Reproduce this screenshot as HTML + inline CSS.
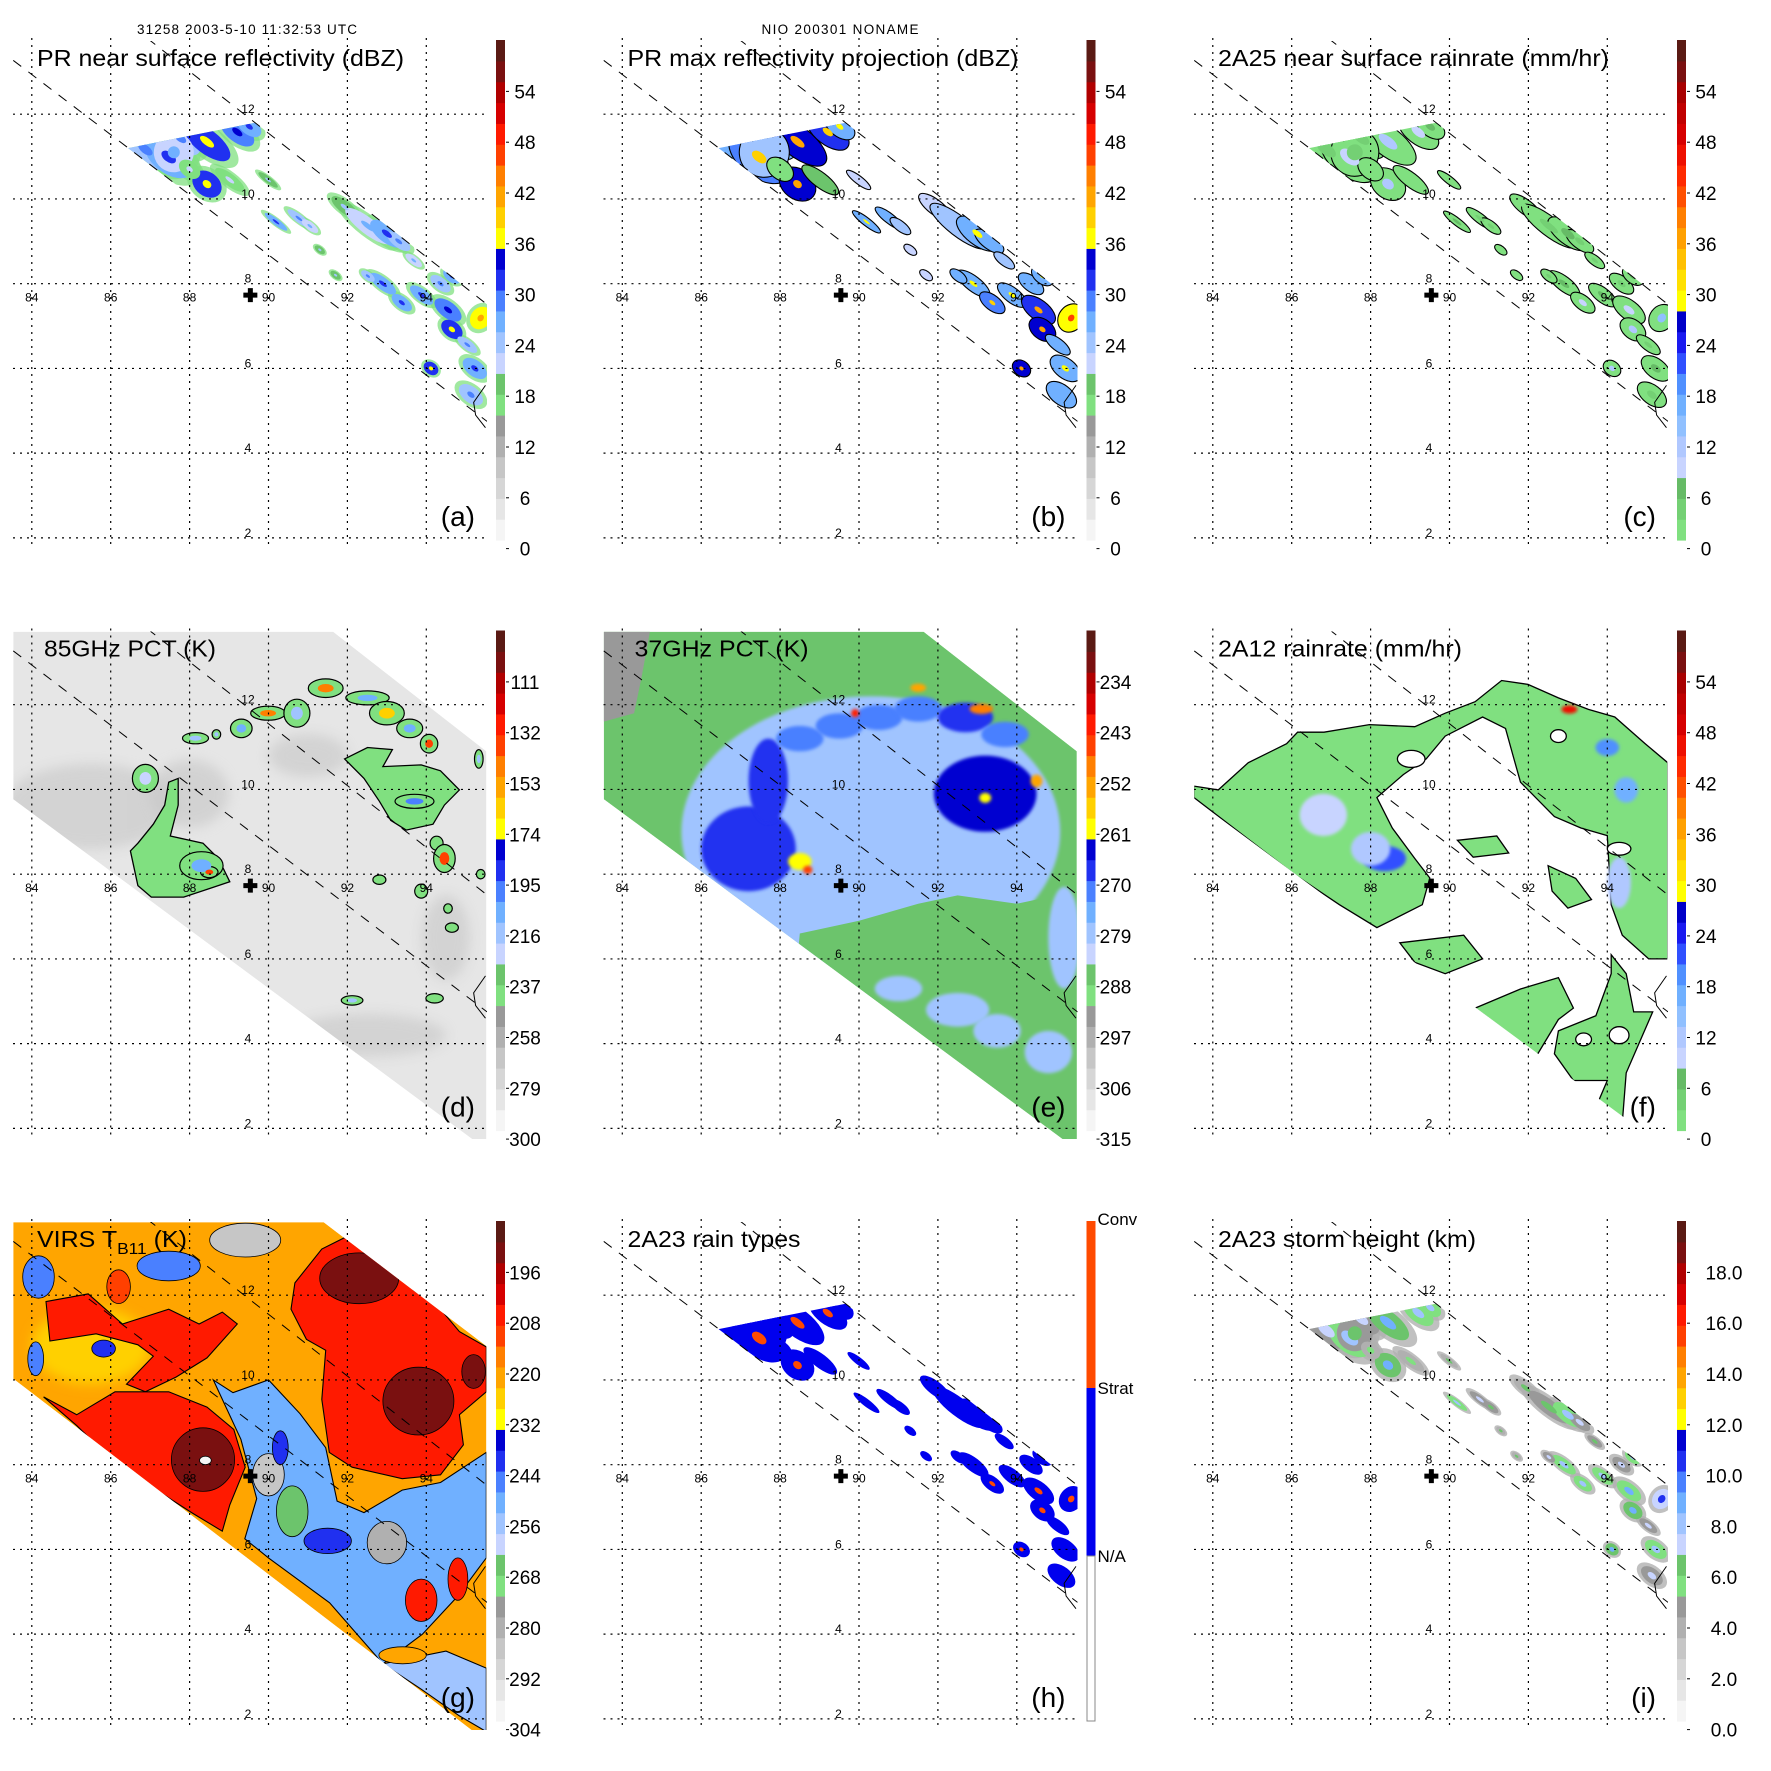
<!DOCTYPE html>
<html><head><meta charset="utf-8"><title>TRMM overpass panels</title>
<style>
html,body{margin:0;padding:0;background:#fff;}
svg{display:block;font-family:"Liberation Sans",Arial,sans-serif;}
</style></head>
<body>
<svg id="fig" xmlns="http://www.w3.org/2000/svg" width="1771" height="1771" viewBox="0 0 1771 1771">
<defs>
<filter id="blur6" x="-50%" y="-50%" width="200%" height="200%"><feGaussianBlur stdDeviation="6"/></filter>
<filter id="blur2" x="-50%" y="-50%" width="200%" height="200%"><feGaussianBlur stdDeviation="1.5"/></filter>
</defs>
<text x="247" y="34" font-size="13.5" text-anchor="middle" textLength="220">31258 2003-5-10 11:32:53 UTC</text>
<text x="840" y="34" font-size="13.5" text-anchor="middle" textLength="157">NIO 200301 NONAME</text>
</svg>
<script>
// ---------- data ----------
const lonTicks=[84,86,88,90,92,94];
const latTicks=[12,10,8,6,4,2];
const stdPalette=['#f5f5f5','#e6e6e6','#d6d6d6','#c6c6c6','#b0b0b0','#999999','#80e080','#6cc46c','#c8d4ff','#a0c4ff','#70b0ff','#4a80ff','#2030f0','#0000d0','#ffff00','#ffd000','#ffa500','#ff7f00','#ff4000','#ff1a00','#d60000','#b00000','#7a1010','#5a1a14'];
const rainPalette=['#80e080','#74d074','#66bb66','#c8d4ff','#b0c8ff','#90c0ff','#70b0ff','#5090ff','#3050ff','#1a1af0','#0000c8','#ffff00','#ffe000','#ffc000','#ffa000','#ff7f00','#ff5000','#ff2a00','#ee1000','#d60000','#c00000','#a80000','#7a1010','#5a1a14'];
const labelsDbz=['0','6','12','18','24','30','36','42','48','54'];
const labels85=['300','279','258','237','216','195','174','153','132','111'];
const labels37=['315','306','297','288','279','270','261','252','243','234'];
const labelsIR=['304','292','280','268','256','244','232','220','208','196'];
const labelsHt=['0.0','2.0','4.0','6.0','8.0','10.0','12.0','14.0','16.0','18.0'];
const swathU=[[86.93,13.79],[95.54,7.51]];
const swathL=[[83.53,13.27],[95.54,4.75]];
const prSwath=[[86.44,11.2],[89.66,11.8],[95.54,7.51],[95.54,4.75]];
const tmiSwath=[[83.53,13.72],[91.64,13.72],[95.52,10.9],[95.52,1.75],[95.16,1.75],[83.53,9.77]];
const virsSwath=[[83.53,13.72],[91.4,13.72],[95.52,10.8],[95.52,1.7],[95.2,1.7],[83.53,10.03]];
const centerLonLat=[89.54,7.73];
// PR cells: lon, lat, length(deg), width(deg), reflectivity dBZ
const prCells=[
[86.88,11.17,0.7,0.35,28],[87.47,10.99,0.7,0.4,32],[87.76,11.44,0.6,0.3,28],[88.44,11.35,0.7,0.3,36],
[89.21,11.58,0.5,0.25,33],[89.51,11.71,0.35,0.2,30],[88.44,10.35,0.4,0.3,36],[89.02,10.45,0.45,0.15,22],
[88.14,11.85,0.3,0.2,24],[87.6,11.1,0.5,0.5,26],[88.0,10.7,0.3,0.2,20],[91.93,9.81,0.4,0.15,24],
[92.52,9.36,0.7,0.2,26],[93.0,9.18,0.5,0.22,30],[93.3,9.0,0.35,0.15,28],[90.19,9.46,0.35,0.08,30],
[90.77,9.54,0.35,0.1,28],[91.05,9.36,0.25,0.1,26],[89.99,10.45,0.3,0.08,24],[92.9,8.0,0.4,0.15,30],
[93.38,7.55,0.3,0.15,32],[93.88,7.73,0.35,0.15,30],[94.36,8.0,0.3,0.15,28],[94.55,7.38,0.4,0.2,34],
[94.65,6.92,0.3,0.2,36],[95.04,6.56,0.3,0.12,28],[95.38,7.19,0.25,0.3,40],[95.23,6.0,0.35,0.2,30],
[95.13,5.38,0.35,0.2,28],[94.12,6.0,0.2,0.15,36],[94.65,8.18,0.25,0.15,30],[92.52,8.18,0.2,0.1,28],
[93.68,8.55,0.25,0.1,26],[91.3,8.8,0.15,0.08,24],[91.7,8.2,0.15,0.08,24]];
// 85 GHz: background blobs (lon,lat,rlon,rlat,K) and convective patches
const d85Back=[[85.5,9.6,2.2,1.0,268],[88,9.9,1.0,0.8,272],[92.5,4.2,2.0,0.5,270],[94.5,6.5,0.6,1.0,268],[91,10.8,1.0,0.5,272]];
const d85Polys=[
{v:245,pts:[[86.69,8.73],[87.08,9.18],[87.37,9.63],[87.47,10.17],[87.71,10.26],[87.71,9.63],[87.51,8.9],[88.34,8.73],[88.73,8.37],[89.02,7.82],[88.44,7.64],[87.85,7.46],[87.03,7.46],[86.69,7.73],[86.5,8.55]]},
{v:245,pts:[[91.93,10.72],[92.51,10.99],[93.14,10.94],[92.9,10.54],[93.87,10.58],[94.36,10.44],[94.84,9.99],[94.46,9.63],[94.17,9.18],[93.49,9.04],[93.1,9.27],[92.81,9.72],[92.42,10.26]]}];
const d85Cells=[[88.3,8.2,0.5,0.3,205],[88.5,8.05,0.2,0.12,140],[93.7,9.72,0.45,0.15,200],[86.88,10.26,0.3,0.3,225],
[88.15,11.21,0.3,0.12,215],[88.68,11.3,0.1,0.1,215],[89.31,11.44,0.25,0.2,210],[89.99,11.8,0.4,0.15,150],
[90.72,11.8,0.3,0.3,215],[91.45,12.39,0.4,0.2,150],[92.51,12.16,0.5,0.15,205],[93.0,11.8,0.4,0.25,165],
[93.58,11.44,0.3,0.2,205],[94.07,11.08,0.2,0.2,135],[94.26,8.73,0.15,0.15,240],[94.46,8.37,0.25,0.3,140],
[93.87,7.6,0.15,0.15,240],[94.55,7.19,0.1,0.1,240],[94.65,6.74,0.15,0.1,240],[95.38,8.0,0.1,0.1,240],
[92.12,5.02,0.25,0.1,220],[94.21,5.07,0.2,0.1,240],[92.81,7.87,0.15,0.1,240],[95.33,10.72,0.1,0.2,220]];
// 37 GHz field
const e37Cells=[[90.3,9.0,4.8,3.2,281],[87.2,8.6,1.2,1.0,267],[87.7,10.2,0.5,1.0,267],[93.2,9.9,1.3,0.9,266],
[88.5,11.2,0.6,0.3,272],[89.5,11.5,0.6,0.3,272],[90.5,11.7,0.6,0.3,272],[91.5,11.9,0.6,0.3,272],[92.7,11.7,0.7,0.35,270],[93.7,11.3,0.6,0.3,272],
[92.5,4.8,0.8,0.4,280],[93.5,4.3,0.6,0.4,279],[94.8,3.8,0.6,0.5,280],[91,5.3,0.6,0.3,281],[95.2,6.5,0.4,1.2,278],
[88.5,8.3,0.3,0.2,259],[88.7,8.1,0.12,0.1,245],[91.5,12.4,0.2,0.1,252],[93.1,11.9,0.3,0.12,250],[93.2,9.8,0.15,0.12,259],[94.5,10.2,0.15,0.15,255],[89.9,11.8,0.1,0.1,243]];
const e37Polys=[{v:296,pts:[[83.53,13.72],[84.7,13.72],[84.5,12.7],[84.3,11.8],[83.53,11.6]]},
{v:288,pts:[[88.5,6.6],[90,6.9],[91.5,7.3],[92.5,7.5],[94,7.3],[95.52,7.6],[95.52,1.7],[88,1.7]]}];
// 2A12 rain rate polygons (mm/hr)
const f12Polys=[
{v:2,pts:[[83.52,10.08],[84.14,9.99],[84.9,10.63],[85.87,11.08],[86.15,11.35],[86.82,11.35],[87.4,11.44],[87.97,11.53],[89.12,11.48],[89.89,11.8],[90.65,12.07],[91.32,12.57],[91.99,12.48],[92.76,12.16],[93.52,11.89],[94.19,11.71],[94.96,11.08],[95.53,10.63],[95.53,6.0],[95.05,6.0],[94.38,6.56],[94.1,7.28],[94.0,8.91],[93.33,9.09],[92.66,9.36],[91.8,10.17],[91.61,10.8],[91.42,11.44],[90.84,11.71],[89.89,11.26],[89.41,10.72],[88.83,10.35],[88.16,9.81],[88.55,9.09],[89.12,8.37],[89.5,7.91],[89.31,7.28],[88.55,6.92],[88.16,6.74],[87.21,7.28],[86.06,8.0],[83.52,9.81]]},
{v:2,pts:[[90.65,4.84],[91.8,5.29],[92.76,5.56],[93.14,4.84],[92.76,4.57],[92.18,3.67],[91.42,4.3]]},
{v:2,pts:[[92.76,4.3],[93.71,4.66],[94.1,5.65],[94.1,6.1],[94.48,5.65],[94.67,4.75],[95.15,4.75],[94.48,3.31],[94.38,2.14],[93.71,2.5],[94.0,3.13],[93.14,3.13],[92.66,3.76]]},
{v:2,pts:[[88.74,6.38],[90.36,6.56],[90.84,6.0],[89.89,5.65],[89.12,5.92]]},
{v:2,pts:[[90.2,8.8],[91.2,8.9],[91.5,8.5],[90.6,8.4]]},
{v:2,pts:[[92.5,8.2],[93.2,7.9],[93.6,7.4],[93,7.2],[92.6,7.6]]}];
const f12Cells=[[88.35,8.37,0.55,0.3,20],[88.0,8.6,0.5,0.4,12],[94.0,10.99,0.3,0.2,18],[94.48,9.99,0.3,0.3,16],[93.04,11.89,0.2,0.1,46],[94.3,7.8,0.3,0.6,12],[86.8,9.4,0.6,0.5,9]];
const f12Holes=[[89.03,10.72,0.35,0.2],[92.76,11.26,0.2,0.15],[94.3,8.6,0.3,0.15],[93.4,4.1,0.2,0.15],[94.3,4.2,0.25,0.2]];
// VIRS IR (K)
const gIRPolys=[
{v:205,pts:[[90.67,12.29],[91.35,13.09],[91.93,13.36],[92.9,13.09],[93.68,12.12],[94.36,11.67],[94.84,11.14],[95.52,10.78],[95.52,9.72],[94.84,9.18],[94.94,8.47],[94.36,7.76],[93.39,7.67],[92.12,7.94],[91.54,8.29],[91.35,9.54],[91.45,10.7],[90.96,10.96],[90.57,11.67]]},
{v:208,pts:[[84.36,11.85],[85.43,12.03],[86.3,11.32],[87.47,11.67],[88.24,11.32],[88.83,11.6],[89.21,11.32],[88.44,10.52],[87.66,10.07],[86.88,9.72],[86.4,9.9],[87.08,10.56],[86.69,10.83],[85.63,11.09],[84.46,10.92]]},
{v:206,pts:[[85.14,9.18],[86.11,9.72],[87.47,9.72],[88.44,9.36],[89.12,8.83],[89.41,7.94],[89.02,7.05],[88.83,6.43],[88.05,6.87],[86.11,8.03],[85.14,8.92],[84.3,9.6]]},
{v:254,pts:[[88.6,10.0],[89.1,9.7],[90,10.0],[90.8,9.2],[91.45,8.4],[91.74,7.14],[92.42,6.87],[93.39,7.4],[94.36,7.58],[95.52,8.29],[95.52,5.8],[94.8,4.9],[93.9,4.0],[92.9,3.3],[91.55,4.74],[90,5.8],[89.4,6.25],[89.7,7.2],[89.3,8.6]]},
{v:258,pts:[[92.9,3.3],[93.87,2.7],[94.84,2.07],[95.52,1.7],[95.52,3.2],[94.5,3.6]]}];
const gIRCells=[[92.3,12.4,1.0,0.6,192],[93.8,9.5,0.9,0.8,193],[95.2,10.2,0.3,0.4,193],[88.34,8.12,0.8,0.75,192],[88.4,8.1,0.15,0.1,300],
[90,7.76,0.4,0.5,285],[93,6.16,0.5,0.5,284],[90.6,6.9,0.4,0.6,268],[89.41,13.3,0.9,0.4,286],[87.47,12.69,0.8,0.35,246],
[84.17,12.43,0.4,0.5,246],[85.82,10.74,0.3,0.2,244],[84.1,10.5,0.2,0.4,246],[93.87,4.8,0.4,0.5,206],[94.8,5.3,0.25,0.5,206],
[91.5,6.2,0.6,0.3,243],[93.4,3.5,0.6,0.2,224],[86.2,12.2,0.3,0.4,214],[90.3,8.4,0.2,0.4,244]];

// ---------- geometry ----------
const PO=[0,590.5,1181];
function X(lon){return 31.8+(lon-84)*39.45;}
function Y(lat){return 114.2+(12-lat)*42.37;}
function P(pts){return pts.map(p=>X(p[0]).toFixed(1)+','+Y(p[1]).toFixed(1)).join(' ');}
const NS='http://www.w3.org/2000/svg';
const svg=document.getElementById('fig');
function mk(tag,attrs,parent){const e=document.createElementNS(NS,tag);for(const k in attrs)e.setAttribute(k,attrs[k]);(parent||svg).appendChild(e);return e;}
function pick(pal,f){const i=Math.max(0,Math.min(pal.length-1,Math.floor(f*pal.length)));return pal[i];}
const ANG=37.6;

function ellipseDeg(g,c,fill,scale,extra){
  const e=mk('ellipse',Object.assign({cx:X(c[0]).toFixed(1),cy:Y(c[1]).toFixed(1),rx:(c[2]*39.45*scale).toFixed(1),ry:(c[3]*42.37*scale).toFixed(1),fill:fill},extra||{}),g);
  return e;
}
function cellSwath(g,c,fill,scale,extra){
  const cx=X(c[0]),cy=Y(c[1]);
  const e=mk('ellipse',Object.assign({cx:cx.toFixed(1),cy:cy.toFixed(1),rx:(c[2]*40*scale).toFixed(1),ry:(c[3]*40*scale).toFixed(1),fill:fill,transform:'rotate('+ANG+' '+cx.toFixed(1)+' '+cy.toFixed(1)+')'},extra||{}),g);
  return e;
}

function panel(i,cfg){
  const ox=PO[i%3],oy=PO[Math.floor(i/3)];
  const g=mk('g',{transform:'translate('+ox+','+oy+')'});
  
  
  const cid='clip'+i;
  const cp=mk('clipPath',{id:cid},g);
  mk('polygon',{points:P(cfg.clip)},cp);
  const rc='rect'+i;
  const cp2=mk('clipPath',{id:rc},g);
  mk('rect',{x:13,y:41,width:474,height:508},cp2);
  const outer=mk('g',{'clip-path':'url(#'+rc+')'},g);
  const field=mk('g',{'clip-path':'url(#'+cid+')'},outer);
  
  
  cfg.draw(field);
  [swathU,swathL].forEach((s,k)=>{
    const ln=mk('line',{x1:X(s[0][0]),y1:Y(s[0][1]),x2:X(s[1][0]),y2:Y(s[1][1]),stroke:'#000','stroke-width':1,'stroke-dasharray':'10,9'},outer);
    
    
  });
  const coast=mk('path',{d:'M'+X(95.5)+','+Y(5.6)+' L'+X(95.2)+','+Y(5.2)+' L'+X(95.25)+','+Y(4.9)+' L'+X(95.5)+','+Y(4.6),fill:'none',stroke:'#000','stroke-width':1},outer);
  
  
  lonTicks.forEach(lon=>{
    const l=mk('line',{x1:X(lon),y1:38,x2:X(lon),y2:549,stroke:'#000','stroke-width':1.2,'stroke-dasharray':'2,5'},g);
    
    
    const t=mk('text',{x:X(lon),y:Y(8)+18,'font-size':12,'text-anchor':'middle'},g);
    t.textContent=lon;
    
    
  });
  latTicks.forEach(lat=>{
    const l=mk('line',{x1:13,y1:Y(lat),x2:487,y2:Y(lat),stroke:'#000','stroke-width':1.2,'stroke-dasharray':'2,5'},g);
    
    
    const t=mk('text',{x:X(89.48),y:Y(lat)-1,'font-size':12,'text-anchor':'middle'},g);
    t.textContent=lat;
    
    
  });
  const cx=X(centerLonLat[0]),cy=Y(centerLonLat[1]);
  const cr=mk('path',{d:'M'+(cx-7)+','+(cy-2.5)+'h14v5h-14z M'+(cx-2.5)+','+(cy-7)+'h5v14h-5z',fill:'#000'},g);
  
  
  const tt=mk('text',{x:cfg.tx||37,y:66,'font-size':23,textLength:cfg.tw,lengthAdjust:'spacingAndGlyphs'},g);
  
  
  if(cfg.titleSub){
    tt.appendChild(document.createTextNode('VIRS T'));
    const s=mk('tspan',{'font-size':16,dy:7},tt);s.textContent='B11';
    const s2=mk('tspan',{dy:-7},tt);s2.textContent=' (K)';
  } else tt.textContent=cfg.title;
  const pl=mk('text',{x:475,y:526,'font-size':28,'text-anchor':'end'},g);
  pl.textContent='('+cfg.letter+')';
  
  
  const cb=mk('g',{},g);
  
  
  if(cfg.rainTypes){
    mk('rect',{x:496,y:40,width:9,height:167,fill:'#ff4a00'},cb);
    mk('rect',{x:496,y:207,width:9,height:168,fill:'#0000ee'},cb);
    mk('rect',{x:496.5,y:375,width:8,height:165,fill:'#fff',stroke:'#888','stroke-width':1},cb);
    [['Conv',44],['Strat',213],['N/A',381]].forEach(a=>{
      const t=mk('text',{x:507,y:a[1],'font-size':17},cb);t.textContent=a[0];
      
      
    });
  } else {
    const pal=cfg.barPal, h=500/pal.length;
    pal.forEach((c,k)=>{mk('rect',{x:496,y:(540-(k+1)*h).toFixed(2),width:9,height:(h+0.6).toFixed(2),fill:c},cb);});
    cfg.labels.forEach((lb,k)=>{
      const ty=548.6-50.8*k;
      mk('line',{x1:506,y1:ty,x2:509,y2:ty,stroke:'#000','stroke-width':1},cb);
      const t=mk('text',{x:cfg.lx||525,y:ty+7,'font-size':19,'text-anchor':'middle'},cb);
      t.textContent=lb;
      
      
    });
  }
}

// ---------- panels ----------
const dbz=v=>pick(stdPalette,v/60);
panel(0,{letter:'a',title:'PR near surface reflectivity (dBZ)',tw:367,clip:prSwath,barPal:stdPalette,labels:labelsDbz,draw:g=>{
  prCells.forEach(c=>{cellSwath(g,c,dbz(17),1.35,{opacity:0.75});});
  prCells.forEach(c=>{const e=cellSwath(g,c,dbz(c[4]-5),1.0);});
  prCells.forEach(c=>{cellSwath(g,c,dbz(c[4]),0.3);});
}});
panel(1,{letter:'b',title:'PR max reflectivity projection (dBZ)',tw:391,clip:prSwath,barPal:stdPalette,labels:labelsDbz,draw:g=>{
  prCells.forEach(c=>{const e=cellSwath(g,c,dbz(c[4]-3),1.25,{stroke:'#000','stroke-width':1.1});});
  prCells.forEach(c=>{if(c[4]>=30)cellSwath(g,c,dbz(c[4]+6),0.3);});
}});
panel(2,{letter:'c',title:'2A25 near surface rainrate (mm/hr)',tw:391,clip:prSwath,barPal:rainPalette,labels:labelsDbz,draw:g=>{
  prCells.forEach(c=>{const e=cellSwath(g,c,'#80e080',1.2,{stroke:'#000','stroke-width':1.1});});
  prCells.forEach(c=>{const r=Math.max(0,(c[4]-22)*0.8);cellSwath(g,c,pick(rainPalette,r/60),0.4);});
}});
panel(3,{letter:'d',title:'85GHz PCT (K)',tx:44,tw:172,clip:tmiSwath,barPal:stdPalette,labels:labels85,draw:g=>{
  mk('polygon',{points:P(tmiSwath),fill:'#e6e6e6'},g);
  d85Back.forEach(c=>{ellipseDeg(g,c,pick(stdPalette,(300-c[4])/210),1,{filter:'url(#blur6)',opacity:0.6});});
  d85Polys.forEach(p=>{const e=mk('polygon',{points:P(p.pts),fill:pick(stdPalette,(300-p.v)/210),stroke:'#000','stroke-width':1.3},g);});
  d85Cells.forEach(c=>{const e=ellipseDeg(g,c,pick(stdPalette,(300-245)/210),1.1,{stroke:'#000','stroke-width':1.2});});
  d85Cells.forEach(c=>{if(c[4]<235)ellipseDeg(g,c,pick(stdPalette,(300-c[4])/210),0.5);});
}});
panel(4,{letter:'e',title:'37GHz PCT (K)',tx:44,tw:174,clip:tmiSwath,barPal:stdPalette,labels:labels37,draw:g=>{
  mk('polygon',{points:P(tmiSwath),fill:pick(stdPalette,(315-288)/90)},g);
  e37Cells.slice(0,1).forEach(c=>{ellipseDeg(g,c,pick(stdPalette,(315-c[4])/90),1,{filter:'url(#blur2)'});});
  e37Polys.forEach(p=>{const e=mk('polygon',{points:P(p.pts),fill:pick(stdPalette,(315-p.v)/90)},g);});
  e37Cells.slice(1).forEach(c=>{const e=ellipseDeg(g,c,pick(stdPalette,(315-c[4])/90),1,{filter:'url(#blur2)'});});
}});
panel(5,{letter:'f',title:'2A12 rainrate (mm/hr)',tw:244,clip:tmiSwath,barPal:rainPalette,labels:labelsDbz,draw:g=>{
  f12Polys.forEach(p=>{const e=mk('polygon',{points:P(p.pts),fill:pick(rainPalette,p.v/60),stroke:'#000','stroke-width':1.3},g);});
  f12Cells.forEach(c=>{const e=ellipseDeg(g,c,pick(rainPalette,c[4]/60),1,{filter:'url(#blur2)'});});
  f12Holes.forEach(c=>{ellipseDeg(g,c,'#fff',1,{stroke:'#000','stroke-width':1.3});});
}});
panel(6,{letter:'g',titleSub:true,tw:150,clip:virsSwath,barPal:stdPalette,labels:labelsIR,draw:g=>{
  mk('polygon',{points:P(virsSwath),fill:pick(stdPalette,(304-221)/120)},g);
  ellipseDeg(g,[85.5,10.8,1.5,0.9,230],pick(stdPalette,(304-229)/120),1,{filter:'url(#blur6)'});
  gIRPolys.forEach(p=>{const e=mk('polygon',{points:P(p.pts),fill:pick(stdPalette,(304-p.v)/120),stroke:'#000','stroke-width':1.1},g);});
  gIRCells.forEach(c=>{const e=ellipseDeg(g,c,pick(stdPalette,(304-c[4])/120),1,{stroke:'#000','stroke-width':0.8});});
}});
panel(7,{letter:'h',title:'2A23 rain types',tw:173,clip:prSwath,rainTypes:true,draw:g=>{
  prCells.forEach(c=>{const e=cellSwath(g,c,'#0000ee',1.15);});
  prCells.forEach(c=>{if(c[4]>=32)cellSwath(g,c,'#ff4a00',0.3);});
}});
panel(8,{letter:'i',title:'2A23 storm height (km)',tw:258,clip:prSwath,barPal:stdPalette,labels:labelsHt,lx:543,draw:g=>{
  prCells.forEach(c=>{cellSwath(g,c,pick(stdPalette,3.5/20),1.25,{opacity:0.8});});
  prCells.forEach(c=>{const e=cellSwath(g,c,pick(stdPalette,(c[4]*0.17)/20),0.9);});
  prCells.forEach(c=>{cellSwath(g,c,pick(stdPalette,(c[4]*0.25)/20),0.35);});
}});
</script>
</body></html>
